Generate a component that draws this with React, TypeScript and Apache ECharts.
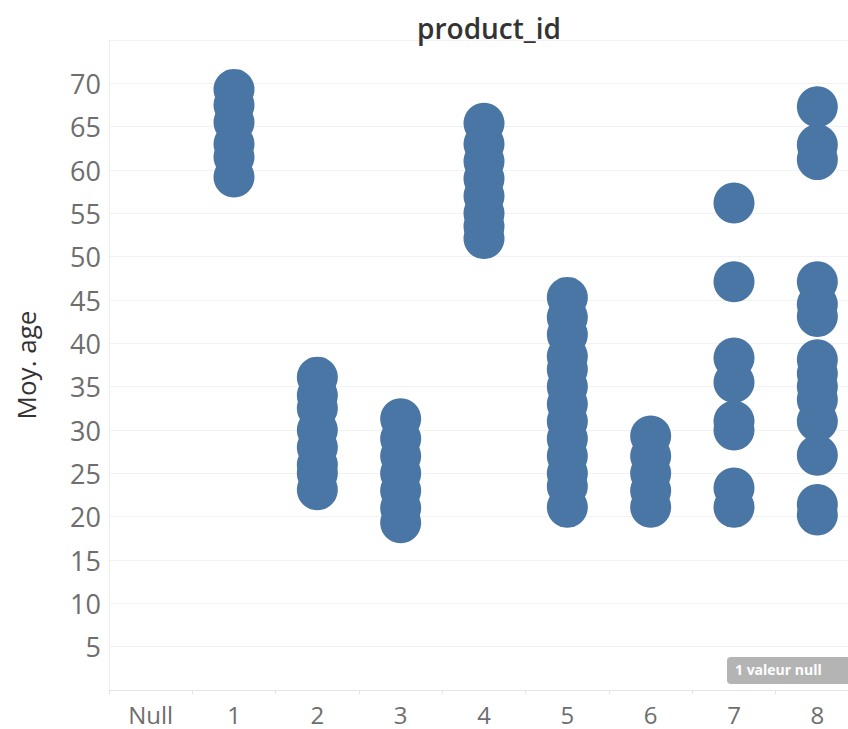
import React, { useEffect, useRef } from "react";
import * as echarts from "echarts";

const categories = ["Null", "1", "2", "3", "4", "5", "6", "7", "8"];
const yTicks = [5, 10, 15, 20, 25, 30, 35, 40, 45, 50, 55, 60, 65, 70];

const ages1 = [69.3, 67.5, 65.5, 63, 61.5, 59.2];
const ages2 = [36.1, 34, 32.5, 30, 28, 26, 25, 23.1];
const ages3 = [31.3, 29, 27, 25, 23, 21, 19.3];
const ages4 = [65.4, 63, 61, 59, 57, 55, 53.5, 52.1];
const ages5 = [45.3, 43, 41, 38.5, 37, 35, 33, 31, 29, 27, 25, 23.5, 21.1];
const ages6 = [29.3, 27, 25, 23, 21.1];
const ages7 = [56.2, 47.1, 38.3, 35.5, 31, 30, 23.3, 21.1];
const ages8 = [67.3, 62.9, 61.2, 47.1, 44.5, 43.1, 38.1, 36.5, 35, 33.5, 31, 27.1, 21.4, 20.2];

const byProduct: [string, number[]][] = [
  ["1", ages1],
  ["2", ages2],
  ["3", ages3],
  ["4", ages4],
  ["5", ages5],
  ["6", ages6],
  ["7", ages7],
  ["8", ages8],
];

const nullNote = "1 valeur null";

export default function App() {
  const ref = useRef<HTMLDivElement>(null);
  useEffect(() => {
    document.body.style.margin = "0";
    if (!ref.current) return;
    const chart = echarts.init(ref.current, null, { renderer: "svg" });
    const points: [string, number][] = [];
    byProduct.forEach(([cat, vals]) => vals.forEach((v) => points.push([cat, v])));
    const font = "'Open Sans', 'Noto Sans', sans-serif";
    chart.setOption({
      animation: false,
      backgroundColor: "#ffffff",
      title: {
        text: "product_id",
        left: 484,
        top: 9,
        textAlign: "center",
        textStyle: { fontFamily: font, fontSize: 28, fontWeight: 600, color: "#333333" },
      },
      grid: { left: 109, right: 0, top: 40, bottom: 39, outerBoundsMode: "none", containLabel: false },
      xAxis: {
        type: "category",
        data: categories,
        boundaryGap: true,
        axisLine: { show: true, lineStyle: { color: "#e4e4e4", width: 1 } },
        axisTick: { show: true, length: 4, lineStyle: { color: "#e4e4e4" } },
        axisLabel: { fontFamily: font, fontSize: 24, color: "#6e6e6e", margin: 12, lineHeight: 24 },
        splitLine: { show: false },
      },
      yAxis: {
        type: "value",
        min: 0,
        max: 75,
        interval: 5,
        name: "Moy. age",
        nameLocation: "middle",
        nameGap: 70,
        nameTextStyle: { fontFamily: font, fontSize: 26, color: "#333333" },
        axisLine: { show: true, lineStyle: { color: "#eeeeee" } },
        axisTick: { show: false },
        axisLabel: {
          fontFamily: font,
          fontSize: 27,
          color: "#6e6e6e",
          margin: 8,
          formatter: (v: number) => (yTicks.indexOf(v) >= 0 ? String(v) : ""),
        },
        splitLine: { show: true, lineStyle: { color: "#f2f2f2", width: 1 } },
      },
      series: [
        {
          type: "scatter",
          data: points,
          symbol: "circle",
          symbolSize: 41,
          itemStyle: { color: "#4a76a6", opacity: 1 },
        },
      ],
      graphic: [
        {
          type: "rect",
          left: 727,
          top: 657,
          shape: { width: 140, height: 27, r: 4 },
          style: { fill: "#b4b4b4" },
          z: 100,
        },
        {
          type: "text",
          left: 735,
          top: 662,
          style: {
            text: nullNote,
            fill: "#ffffff",
            font: `bold 14px ${font}`,
          },
          z: 101,
        },
      ],
    });
    return () => chart.dispose();
  }, []);
  return (
    <div style={{ width: 848, height: 729, overflow: "hidden", position: "relative" }}>
      <div ref={ref} style={{ width: 859, height: 729 }} />
    </div>
  );
}
